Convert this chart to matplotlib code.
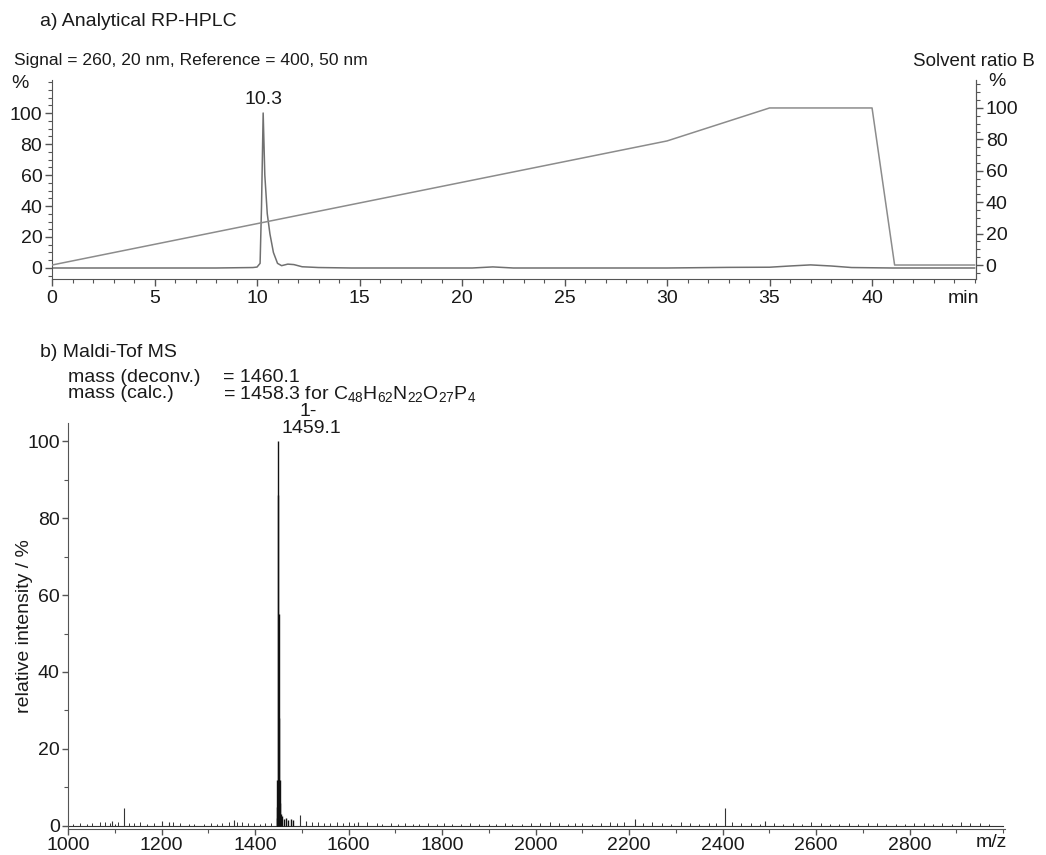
import matplotlib
matplotlib.use("Agg")
import matplotlib.pyplot as plt
from matplotlib.ticker import MultipleLocator

plt.rcParams['font.family'] = ['Liberation Sans', 'DejaVu Sans']
plt.rcParams['mathtext.default'] = 'regular'

# ---------------- data ----------------
# a) HPLC chromatogram (min, %)
hplc_time = [0, 2, 5, 8, 9.8, 10.0, 10.15, 10.22, 10.3, 10.38, 10.5, 10.63, 10.8, 11.0,
             11.2, 11.5, 11.8, 12.2, 13.0, 14.6, 20.5, 21.5, 22.5, 25, 30, 33, 35, 36,
             37, 38, 39, 41, 45]
hplc_signal = [0, 0, 0, 0, 0.3, 0.6, 3, 40, 100, 60, 35, 22, 10, 3,
               1.5, 2.5, 2.2, 0.8, 0.3, 0, 0, 0.7, 0, 0, 0, 0.4, 0.5, 1.3,
               2.0, 1.3, 0.3, 0, 0]
# solvent gradient (min, % B)
grad_time = [0, 30, 35, 40, 41.1, 45]
grad_B = [0, 79, 100, 100, 0, 0]
hplc_peak_label = "10.3"
hplc_xticks = [0, 5, 10, 15, 20, 25, 30, 35, 40]
hplc_yticks = [0, 20, 40, 60, 80, 100]

# b) MALDI-TOF spectrum (m/z, relative intensity %)
main_mz = [1446, 1447, 1448, 1449, 1450, 1451, 1452, 1453, 1454, 1456, 1458, 1462, 1466, 1470, 1476, 1481]
main_int = [2, 5, 12, 100, 86, 55, 28, 12, 6, 3, 2.5, 1.8, 2, 1.5, 1.8, 1.5]
minor_mz = [1120, 1497, 2405, 1355, 2212, 1200, 1095, 2490, 1215, 1620, 1510]
minor_int = [4.7, 2.8, 4.7, 1.5, 1.8, 1.4, 1.3, 1.4, 1.0, 1.0, 1.2]
noise_mz = [1010, 1025, 1040, 1052, 1068, 1080, 1090, 1100, 1108, 1130, 1142, 1155, 1170,
            1185, 1225, 1240, 1258, 1270, 1290, 1305, 1318, 1330, 1345, 1362, 1372,
            1385, 1398, 1410, 1422, 1435, 1522, 1535, 1548, 1560, 1575, 1588, 1600,
            1612, 1640, 1660, 1672, 1690, 1705, 1720, 1738, 1750, 1770, 1790, 1805,
            1822, 1840, 1860, 1880, 1900, 1915, 1935, 1950, 1970, 1990, 2010, 2030,
            2050, 2070, 2085, 2100, 2120, 2140, 2160, 2175, 2190, 2230, 2250, 2270,
            2290, 2310, 2330, 2350, 2370, 2385, 2420, 2440, 2460, 2480, 2510, 2530,
            2550, 2570, 2590, 2610, 2630, 2650, 2670, 2690, 2710, 2730, 2750, 2770,
            2790, 2810, 2830, 2850, 2870, 2890, 2910, 2930, 2950, 2970]
noise_int = [0.5, 0.7, 0.6, 0.8, 0.9, 1.0, 0.8, 0.6, 0.9, 0.8, 0.7, 0.9, 0.6,
             0.7, 1.0, 0.8, 0.6, 0.5, 0.6, 0.7, 0.6, 0.8, 0.9, 0.9, 1.1,
             0.8, 0.7, 0.6, 0.7, 0.8, 1.0, 0.9, 0.8, 0.7, 0.9, 0.8, 0.9,
             0.7, 0.9, 0.8, 0.6, 0.7, 0.6, 0.7, 0.5, 0.6, 0.7, 0.6, 0.7,
             0.6, 0.5, 0.7, 0.6, 0.6, 0.5, 0.7, 0.6, 0.6, 0.7, 0.8, 0.9,
             0.7, 0.6, 0.8, 0.7, 0.6, 0.7, 0.9, 0.8, 1.0, 0.8, 1.1, 0.7,
             0.6, 0.9, 0.7, 0.6, 0.8, 0.7, 0.9, 0.8, 0.7, 0.6, 0.8, 0.6,
             0.7, 0.6, 0.9, 0.7, 0.6, 0.5, 0.7, 0.6, 0.8, 0.7, 0.6, 0.5,
             0.6, 0.7, 0.8, 0.6, 0.7, 0.6, 0.9, 0.8, 0.7, 0.6]
ms_xticks = [1000, 1200, 1400, 1600, 1800, 2000, 2200, 2400, 2600, 2800]
ms_yticks = [0, 20, 40, 60, 80, 100]

# ---------------- figure ----------------
W, H = 1046, 855
fig = plt.figure(figsize=(W / 100, H / 100), dpi=100)

def box(l, t, r, b):
    return [l / W, 1 - b / H, (r - l) / W, (b - t) / H]

txt = '#1a1a1a'
spine_c = '#555555'
fs = 14

# ---- panel a ----
ax1 = fig.add_axes(box(52, 80, 976, 279))
ax1.plot(hplc_time, hplc_signal, color='#707070', lw=1.1)
ax1.set_xlim(0, 45.07)
ax1.set_ylim(-7.1, 121.3)
ax1.spines['top'].set_visible(False)
for s in ['left', 'right', 'bottom']:
    ax1.spines[s].set_color(spine_c)
ax1.set_xticks(hplc_xticks)
ax1.xaxis.set_minor_locator(MultipleLocator(1))
ax1.set_yticks(hplc_yticks)
ax1.yaxis.set_minor_locator(MultipleLocator(5))
ax1.tick_params(axis='both', which='major', direction='out', length=5, width=1,
                color=spine_c, labelsize=fs, labelcolor=txt, pad=2)
ax1.tick_params(axis='both', which='minor', direction='out', length=3, width=0.8, color=spine_c)
ax1.tick_params(axis='x', which='major', pad=3)
ax1.text(10.3, 103, hplc_peak_label, ha='center', va='bottom', fontsize=fs, color=txt)

ax1r = ax1.twinx()
ax1r.plot(grad_time, grad_B, color='#8c8c8c', lw=1.1)
ax1r.set_ylim(-8.9, 117.8)
ax1r.spines['top'].set_visible(False)
ax1r.spines['left'].set_visible(False)
ax1r.spines['bottom'].set_visible(False)
ax1r.spines['right'].set_color(spine_c)
ax1r.set_yticks(hplc_yticks)
ax1r.yaxis.set_minor_locator(MultipleLocator(5))
ax1r.tick_params(axis='y', which='major', direction='out', length=5, width=1,
                 color=spine_c, labelsize=fs, labelcolor=txt, pad=2)
ax1r.tick_params(axis='y', which='minor', direction='out', length=3, width=0.8, color=spine_c)

fig.text(963 / W, 1 - 298 / H, 'min', fontsize=fs, color=txt, va='center', ha='center')
fig.text(40 / W, 1 - 22 / H, 'a) Analytical RP-HPLC', fontsize=fs, color=txt, va='center', ha='left')
fig.text(14 / W, 1 - 60 / H, 'Signal = 260, 20 nm, Reference = 400, 50 nm', fontsize=12.6,
         color=txt, va='center', ha='left')
fig.text(20 / W, 1 - 84 / H, '%', fontsize=fs, color=txt, va='center', ha='center')
fig.text(997 / W, 1 - 82 / H, '%', fontsize=fs, color=txt, va='center', ha='center')
fig.text(913 / W, 1 - 62 / H, 'Solvent ratio B', fontsize=13.5, color=txt, va='center', ha='left')

# ---- panel b ----
ax2 = fig.add_axes(box(68, 423, 1005, 829))
ax2.plot([1000, 3000], [0, 0], color='#333333', lw=0.8)
ax2.vlines(noise_mz, 0, noise_int, color='#333333', lw=0.7)
ax2.vlines(minor_mz, 0, minor_int, color='#333333', lw=0.8)
ax2.vlines(main_mz, 0, main_int, color='#111111', lw=1.0)
ax2.set_xlim(1000, 3004)
ax2.set_ylim(-0.8, 104.7)
for s in ['top', 'right']:
    ax2.spines[s].set_visible(False)
for s in ['left', 'bottom']:
    ax2.spines[s].set_color(spine_c)
ax2.set_xticks(ms_xticks)
ax2.xaxis.set_minor_locator(MultipleLocator(100))
ax2.set_yticks(ms_yticks)
ax2.yaxis.set_minor_locator(MultipleLocator(10))
ax2.tick_params(axis='both', which='major', direction='out', length=4, width=1,
                color=spine_c, labelsize=fs, labelcolor=txt, pad=2)
ax2.tick_params(axis='both', which='minor', direction='out', length=3, width=0.8, color=spine_c)
ax2.set_ylabel('relative intensity / %', fontsize=fs, color=txt, labelpad=-4)
fig.text(991 / W, 1 - 842 / H, 'm/z', fontsize=fs, color=txt, va='center', ha='center')
fig.text(308 / W, 1 - 411 / H, '1-', fontsize=fs, color=txt, va='center', ha='center')
fig.text(311 / W, 1 - 428 / H, '1459.1', fontsize=fs, color=txt, va='center', ha='center')

fig.text(40 / W, 1 - 352 / H, 'b) Maldi-Tof MS', fontsize=fs, color=txt, va='center', ha='left')
fig.text(68 / W, 1 - 377 / H, 'mass (deconv.)', fontsize=fs, color=txt, va='center', ha='left')
fig.text(68 / W, 1 - 394 / H, 'mass (calc.)', fontsize=fs, color=txt, va='center', ha='left')
fig.text(223 / W, 1 - 377 / H, '= 1460.1', fontsize=fs, color=txt, va='center', ha='left')
fig.text(223 / W, 1 - 394 / H,
         r'= 1458.3 for C$_{48}$H$_{62}$N$_{22}$O$_{27}$P$_{4}$',
         fontsize=fs, color=txt, va='center', ha='left')

fig.savefig('out.png', dpi=100)
